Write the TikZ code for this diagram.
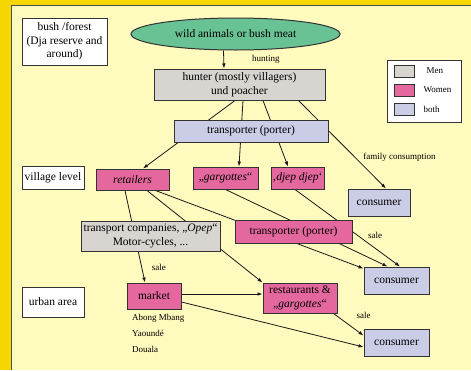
\documentclass[tikz,border=0pt]{standalone}
\usepackage{fontspec}
\setmainfont{Liberation Serif}
\usetikzlibrary{positioning,shapes.geometric,arrows.meta,backgrounds}

\definecolor{framegold}{RGB}{246,214,0}
\definecolor{palecream}{RGB}{255,250,190}
\definecolor{wildgreen}{RGB}{104,194,148}
\definecolor{mengrey}{RGB}{216,212,208}
\definecolor{womenpink}{RGB}{228,104,158}
\definecolor{bothblue}{RGB}{203,204,230}

\begin{document}
\begin{tikzpicture}[x=1pt,y=-1pt,>={Latex[length=5pt,width=3.6pt]},
  box/.style={draw=black!80,line width=1pt,align=center,inner sep=1pt,
    font=\fontsize{11.5}{13.5}\selectfont},
  men/.style={box,fill=mengrey},
  women/.style={box,fill=womenpink},
  both/.style={box,fill=bothblue},
  level/.style={box,fill=white},
  conn/.style={draw=black!90,line width=0.8pt},
  lbl/.style={font=\fontsize{9}{10}\selectfont,inner sep=0pt},
  legsq/.style={draw=black!80,line width=1pt,minimum width=20pt,
    minimum height=12pt,inner sep=0pt}]
  \def\legenditem(#1)[#2]#3#4#5{%
    \node[legsq, fill=#2] (#3) at (#1) {};
    \node[lbl, anchor=west] (#3txt) at ([xshift=#5]#3.east) {#4};
  }

  \useasboundingbox (0,0) rectangle (471,370);

  % levels
  \node[level, minimum width=85pt, minimum height=47pt] (bush) at (64.5,41.5)
    {bush /forest\\(Dja reserve and\\around)};
  \node[level, minimum width=62pt, minimum height=23pt] (village) at (53,178) {village level};
  \node[level, minimum width=62pt, minimum height=30pt] (urban) at (53,302) {urban area};

  % chain
  \node[ellipse, draw=black!80, line width=1pt, fill=wildgreen, minimum width=209pt,
    minimum height=32pt, font=\fontsize{11.5}{13.5}\selectfont] (wild) at (235.5,34)
    {wild animals or bush meat};
  \node[men, minimum width=171pt, minimum height=31pt] (hunter) at (239.5,84.5)
    {hunter (mostly villagers)\\und poacher};
  \node[both, minimum width=154pt, minimum height=22pt] (porter) at (251,131) {transporter (porter)};
  \node[women, minimum width=73pt, minimum height=21pt] (retail) at (132.5,179.5) {\textit{retailers}};
  \node[women, minimum width=65pt, minimum height=22pt] (garg) at (225.5,178) {„\textit{gargottes}“};
  \node[women, minimum width=53pt, minimum height=22pt, inner sep=0pt] (djep) at (297.5,178)
    {‚\textit{djep djep}‘};
  \node[both, minimum width=62pt, minimum height=27pt] (cons1) at (379,202.5) {consumer};
  \node[men, minimum width=139pt, minimum height=30pt] (trans) at (150.5,236)
    {transport companies, „\textit{Opep}“\\Motor-cycles, ...};
  \node[women, minimum width=117pt, minimum height=23pt] (porter2) at (293.5,231.5) {transporter (porter)};
  \node[both, minimum width=65pt, minimum height=27pt] (cons2) at (396.5,280.5) {consumer};
  \node[women, minimum width=54pt, minimum height=26pt] (market) at (154,296) {market};
  \node[women, minimum width=74pt, minimum height=30pt] (resto) at (300,298)
    {restaurants \&\\„\textit{gargottes}“};
  \node[both, minimum width=65pt, minimum height=27pt] (cons3) at (396.5,342.5) {consumer};
  \foreach \town/\ty [count=\i] in {Abong Mbang/318, Yaoundé/333, Douala/349}
    \node[lbl, anchor=west] (town\i) at (132,\ty) {\town};

  % legend
  \node[draw=black!80, line width=1pt, fill=white, minimum width=74pt,
    minimum height=62pt, inner sep=0pt] (legend) at (424,91) {};
  \legenditem(404,71)[mengrey]{lmen}{Men}{12pt}
  \legenditem(404,90)[womenpink]{lwomen}{Women}{9pt}
  \legenditem(404,109.5)[bothblue]{lboth}{both}{9pt}

  \begin{pgfonlayer}{background}
    \fill[framegold] (0,0) rectangle (471,370);
    \fill[palecream] (12,6) rectangle (471,370);
    \draw[black!70, line width=1pt] (11.5,370) -- (11.5,5.5) -- (471,5.5);

    \draw[conn,->] ([xshift=-12pt]wild.south) -- node[lbl, xshift=42pt] (lhunt) {hunting}
      ([xshift=-15.5pt]hunter.north);
    \draw[conn,->] ([xshift=-4.5pt]hunter.south) -- ([xshift=10.5pt]retail.north);
    \draw[conn,->] ([xshift=3.5pt]hunter.south) -- ([xshift=13.5pt]garg.north);
    \draw[conn,->] ([xshift=23.5pt]hunter.south) -- ([xshift=-9.5pt]djep.north);
    \draw[conn,->] ([xshift=-27pt]hunter.south east) --
      node[lbl, pos=0.65, xshift=44pt] (lfam) {family consumption} ([xshift=7pt]cons1.north);
    \draw[conn,->] ([xshift=-7.5pt]retail.south) --
      node[lbl, pos=0.84, xshift=17pt] (lsale1) {sale} ([xshift=-9pt]market.north);
    \draw[conn,->] ([xshift=14.5pt]retail.south) -- (resto.north west);
    \draw[conn,->] ([xshift=-14pt]retail.south east) -- ([yshift=-2pt]cons2.north west);
    \draw[conn,->] (garg.south) -- ([xshift=-9pt]cons2.north);
    \draw[conn,->] ([xshift=-2.5pt]djep.south) --
      node[lbl, pos=0.6, xshift=17pt] (lsale2) {sale} ([xshift=3.5pt]cons2.north);
    \draw[conn,->] ([yshift=2pt]market.east) -- ([yshift=2pt]market.east -| resto.west);
    \draw[conn,->] ([yshift=-6pt]market.east) -- ([yshift=-4.5pt]cons3.west);
    \draw[conn,->] ([xshift=-4pt]resto.south east) --
      node[lbl, pos=0.3, xshift=21pt, yshift=5pt] (lsale3) {sale} ([yshift=-7pt]cons3.north west);
  \end{pgfonlayer}
\end{tikzpicture}
\end{document}
